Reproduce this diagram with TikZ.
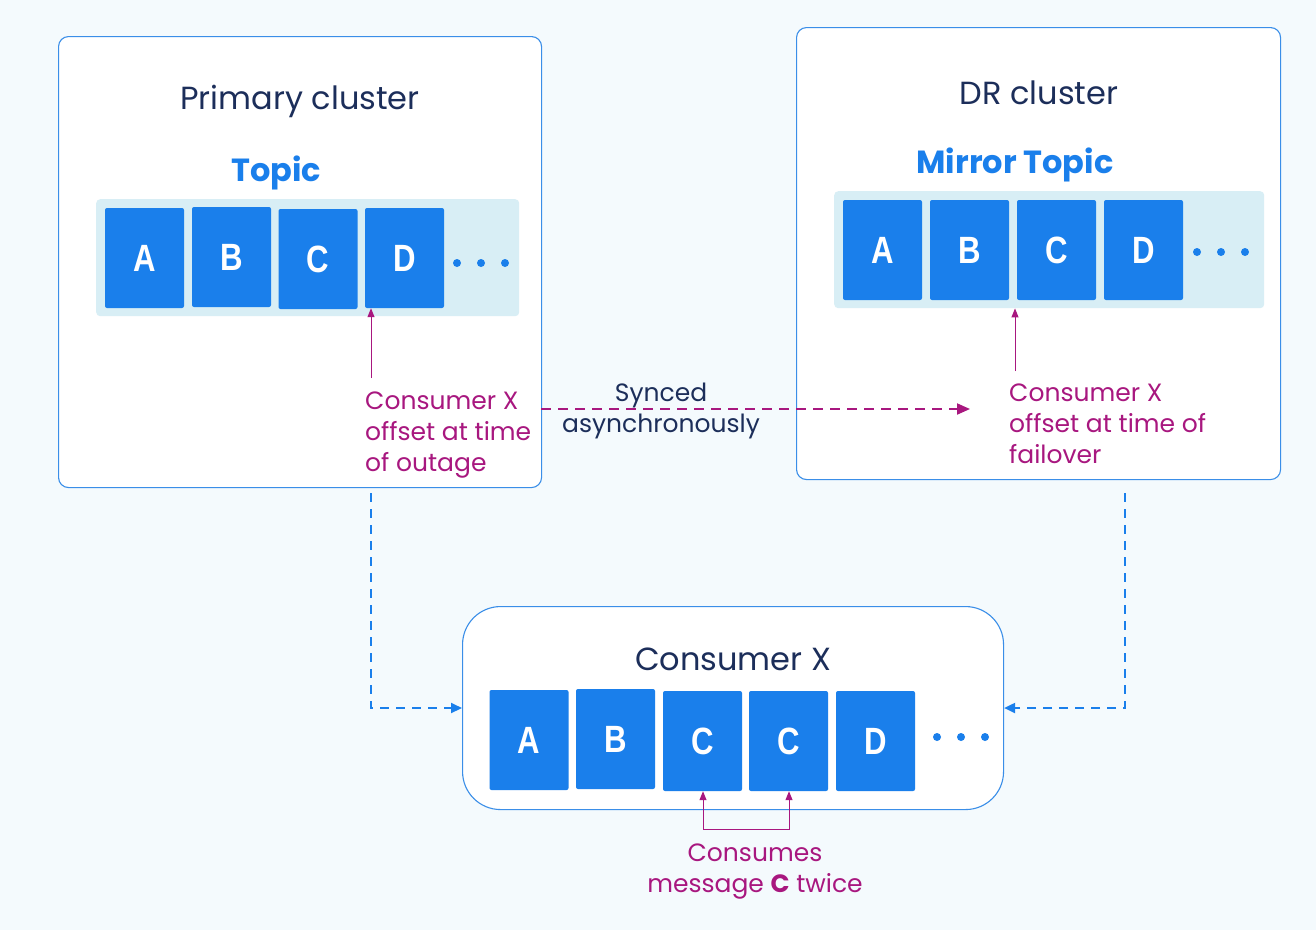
\documentclass[tikz,border=0pt]{standalone}
\usepackage{fontspec}
\setmainfont{Poppins}
\newfontfamily\blockfont{Liberation Sans}
\usetikzlibrary{arrows.meta}
\definecolor{bgc}{HTML}{F4FAFD}
\definecolor{navy}{HTML}{1C2E5A}
\definecolor{bblue}{HTML}{1A7FEB}
\definecolor{edgeblue}{HTML}{3A8EE8}
\definecolor{band}{HTML}{D8EEF5}
\definecolor{mag}{HTML}{A8177F}
\tikzset{
  clusterbox/.style={draw=edgeblue, line width=1.1pt, fill=white, rounded corners=10pt},
  bandbox/.style={fill=band, rounded corners=4pt},
  msg/.style={fill=bblue, rounded corners=2pt, minimum width=79pt, minimum height=100pt, inner sep=0pt,
    text=white, font=\blockfont\bfseries\fontsize{38}{40}\selectfont},
  titletext/.style={text=navy, font=\fontsize{32}{36}\selectfont},
  topictext/.style={text=bblue, font=\bfseries\fontsize{32}{36}\selectfont},
  note/.style={text=mag, font=\fontsize{25}{31}\selectfont, align=left, inner sep=0pt},
  navynote/.style={text=navy, font=\fontsize{25}{31}\selectfont, align=center, inner sep=0pt},
  dot/.style={circle, fill=bblue, minimum size=8pt, inner sep=0pt},
  magarrow/.style={draw=mag, line width=1pt, -{Triangle[length=9pt,width=7pt]}},
  bluedash/.style={draw=bblue, line width=2pt, dash pattern=on 9pt off 7pt, -{Triangle[length=11pt,width=10pt]}},
  magdash/.style={draw=mag, line width=2pt, dash pattern=on 10pt off 7pt, -{Triangle[length=13pt,width=11pt]}},
}
\newcommand{\blk}[1]{\scalebox{0.82}[1]{#1}}
\begin{document}
\begin{tikzpicture}[x=1pt,y=-1pt]
\useasboundingbox[fill=bgc] (0,0) rectangle (1316,930);

% Primary cluster
\node[clusterbox, minimum width=483pt, minimum height=451pt, anchor=north west] (prim) at (58,36) {};
\node[titletext] (primt) at (300,101) {Primary cluster};
\node[topictext] (topic) at (276,173) {Topic};
\node[bandbox, minimum width=423pt, minimum height=117pt, anchor=north west] (pband) at (96,199) {};
\node[msg] (pa) at (144.5,258) {\blk{A}};
\node[msg] (pb) at (231.5,257) {\blk{B}};
\node[msg] (pc) at (318,259) {\blk{C}};
\node[msg] (pd) at (404.5,258) {\blk{D}};
\node[dot] (pd1) at (457,263) {};
\node[dot] (pd2) at (481,263) {};
\node[dot] (pd3) at (505,263) {};
\node[note, anchor=north west] (pnote) at (365,392) {Consumer X\\offset at time\\of outage};
\coordinate (parr) at (371,378);
\draw[magarrow] (parr) -- (pd.south -| parr);

% DR cluster
\node[clusterbox, minimum width=484pt, minimum height=452pt, anchor=north west] (dr) at (796,27) {};
\node[titletext] (drt) at (1039,93) {DR cluster};
\node[topictext] (mtopic) at (1015,165) {Mirror Topic};
\node[bandbox, minimum width=430pt, minimum height=117pt, anchor=north west] (dband) at (834,191) {};
\node[msg] (da) at (882.5,250) {\blk{A}};
\node[msg] (db) at (969.5,250) {\blk{B}};
\node[msg] (dc) at (1056.5,250) {\blk{C}};
\node[msg] (dd) at (1143.5,250) {\blk{D}};
\node[dot] (dd1) at (1197,252) {};
\node[dot] (dd2) at (1221,252) {};
\node[dot] (dd3) at (1245,252) {};
\node[note, anchor=north west] (dnote) at (1009,384) {Consumer X\\offset at time of\\failover};
\coordinate (darr) at (1015,371);
\draw[magarrow] (darr) -- (dband.south -| darr);

% Sync
\coordinate (syncs) at (541,409);
\coordinate (synce) at (970,409);
\draw[magdash] (syncs) -- (synce);
\node[navynote] (sync) at (661,411) {Synced\\asynchronously};

% Consumer
\node[clusterbox, rounded corners=38pt, minimum width=541pt, minimum height=203pt, anchor=north west] (cons) at (462,606) {};
\node[titletext] (const) at (733,659) {Consumer X};
\node[msg] (ca) at (529,740) {\blk{A}};
\node[msg] (cb) at (615.5,739) {\blk{B}};
\node[msg] (cc1) at (702.5,741) {\blk{C}};
\node[msg] (cc2) at (788.5,741) {\blk{C}};
\node[msg] (cd) at (875.5,741) {\blk{D}};
\node[dot] (cd1) at (937,737) {};
\node[dot] (cd2) at (961,737) {};
\node[dot] (cd3) at (985,737) {};

% dashed feeds
\coordinate (lf) at (371,493);
\coordinate (rf) at (1125,493);
\draw[bluedash] (lf) |- (cons.west |- 0,708);
\draw[bluedash] (rf) |- (cons.east |- 0,708);

% consumes twice
\coordinate (tw) at (703,829);
\draw[magarrow] (tw) -- (cc1.south -| tw);
\draw[magarrow] (tw) -- (789,829) -- (cc2.south -| 789,0);
\node[note, align=center] (twice) at (755,872) {Consumes\\message {\bfseries C} twice};
\end{tikzpicture}
\end{document}
